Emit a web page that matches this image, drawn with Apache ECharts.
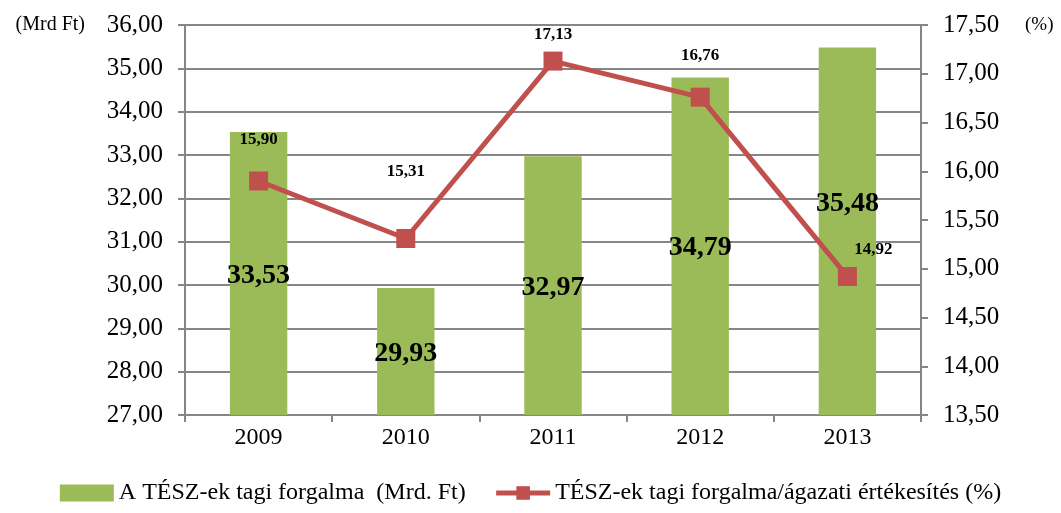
<!DOCTYPE html>
<html>
<head>
<meta charset="utf-8">
<script src="https://cdn.jsdelivr.net/npm/echarts@6/dist/echarts.min.js"></script>
<style>
  html, body { margin: 0; padding: 0; background: #fff; }
  #chart { width: 1061px; height: 513px; }
</style>
</head>
<body>
<div id="chart"></div>
<script>
const years = ['2009', '2010', '2011', '2012', '2013'];
const turnover = [33.53, 29.93, 32.97, 34.79, 35.48];
const share = [15.90, 15.31, 17.13, 16.76, 14.92];

const serif = '"Liberation Serif", "Times New Roman", serif';
const fmt = (v) => v.toFixed(2).replace('.', ',');

// label nudges, [dx, dy] relative to the default spot
const turnoverLabelOffset = [[0, 2], [0, 2], [0, 2], [0, 2], [0, -28]];
const shareLabelOffset = [[0, -41], [0, -67], [0, -26], [0, -42], [26, -27]];

const chart = echarts.init(document.getElementById('chart'));

const option = {
    animation: false,
    grid: { left: 185, right: 140, top: 25, bottom: 98 },
    legend: {
        bottom: 3,
        left: 'center',
        itemGap: 28,
        itemWidth: 54,
        itemHeight: 17,
        textStyle: { fontFamily: serif, fontSize: 24, color: '#000' },
        data: [
            { name: 'A TÉSZ-ek tagi forgalma  (Mrd. Ft)', icon: 'rect' },
            {
                name: 'TÉSZ-ek tagi forgalma/ágazati értékesítés (%)',
                itemStyle: { color: '#C0504D' },
                lineStyle: { color: '#C0504D', width: 5 }
            }
        ]
    },
    xAxis: {
        type: 'category',
        data: years,
        axisLine: { lineStyle: { color: '#868686', width: 2 } },
        axisTick: { show: true, length: 7, lineStyle: { color: '#868686', width: 2 } },
        axisLabel: { fontFamily: serif, fontSize: 24, color: '#000', margin: 11 }
    },
    yAxis: [
        {
            type: 'value',
            min: 27,
            max: 36,
            interval: 1,
            name: '(Mrd Ft)',
            nameLocation: 'end',
            nameGap: 0,
            nameTextStyle: {
                fontFamily: serif, fontSize: 20, color: '#000',
                align: 'right', verticalAlign: 'middle', padding: [8, 100, 0, 0]
            },
            axisLine: { show: true, lineStyle: { color: '#868686', width: 2 } },
            axisTick: { show: true, length: 7, lineStyle: { color: '#868686', width: 2 } },
            axisLabel: { fontFamily: serif, fontSize: 25, color: '#000', margin: 22, formatter: fmt },
            splitLine: { lineStyle: { color: '#868686', width: 2 } }
        },
        {
            type: 'value',
            min: 13.5,
            max: 17.5,
            interval: 0.5,
            name: '(%)',
            nameLocation: 'end',
            nameGap: 0,
            nameTextStyle: {
                fontFamily: serif, fontSize: 19, color: '#000',
                align: 'left', verticalAlign: 'middle', padding: [6, 0, 0, 104]
            },
            axisLine: { show: true, lineStyle: { color: '#868686', width: 2 } },
            axisTick: { show: true, length: 7, lineStyle: { color: '#868686', width: 2 } },
            axisLabel: { fontFamily: serif, fontSize: 25, color: '#000', margin: 22, formatter: fmt },
            splitLine: { show: false }
        }
    ],
    series: [
        {
            name: 'A TÉSZ-ek tagi forgalma  (Mrd. Ft)',
            type: 'bar',
            yAxisIndex: 0,
            barWidth: '39%',
            itemStyle: { color: '#9BBB59' },
            data: turnover.map((v, i) => ({
                value: v,
                label: {
                    show: true,
                    position: 'inside',
                    offset: turnoverLabelOffset[i],
                    fontFamily: serif,
                    fontSize: 28,
                    fontWeight: 'bold',
                    color: '#000',
                    formatter: (p) => fmt(p.value)
                }
            }))
        },
        {
            name: 'TÉSZ-ek tagi forgalma/ágazati értékesítés (%)',
            type: 'line',
            yAxisIndex: 1,
            symbol: 'rect',
            symbolSize: 19,
            lineStyle: { color: '#C0504D', width: 5 },
            itemStyle: { color: '#C0504D' },
            data: share.map((v, i) => ({
                value: v,
                label: {
                    show: true,
                    position: 'inside',
                    offset: shareLabelOffset[i],
                    fontFamily: serif,
                    fontSize: 17,
                    fontWeight: 'bold',
                    color: '#000',
                    formatter: (p) => fmt(p.value)
                }
            }))
        }
    ]
};

chart.setOption(option);
</script>
</body>
</html>
